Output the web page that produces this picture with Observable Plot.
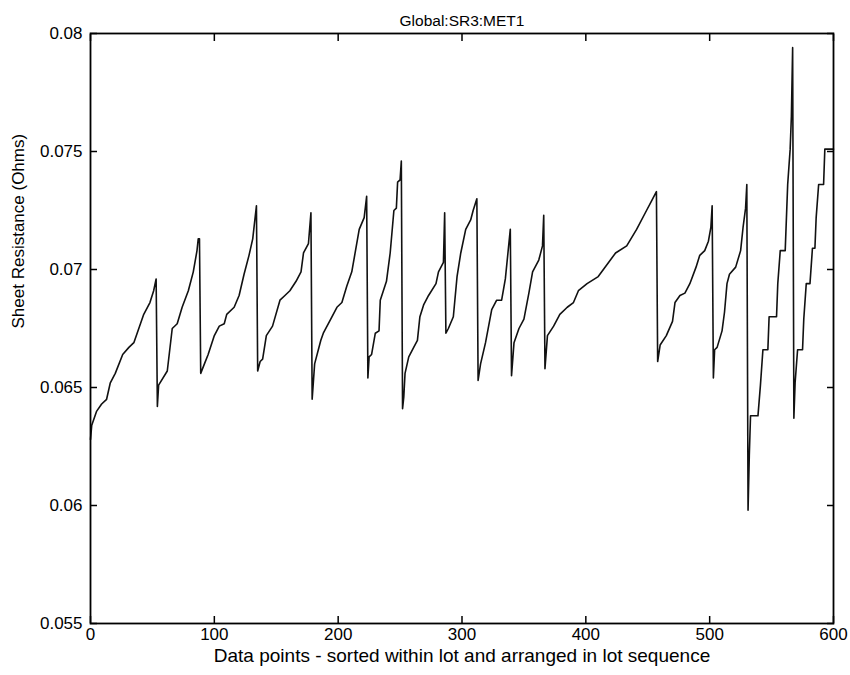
<!DOCTYPE html>
<html>
<head>
<meta charset="utf-8">
<script src="https://cdn.jsdelivr.net/npm/d3@7"></script>
<script src="https://cdn.jsdelivr.net/npm/@observablehq/plot@0.6"></script>
<style>
  html, body { margin: 0; padding: 0; background: #fff; }
  svg { font-family: "Liberation Sans", Arial, sans-serif; }
</style>
</head>
<body>
<div id="chart"></div>
<script>
const title = "Global:SR3:MET1";
const xLabel = "Data points - sorted within lot and arranged in lot sequence";
const yLabel = "Sheet Resistance (Ohms)";

const xTicks = [0, 100, 200, 300, 400, 500, 600];
const yTicks = [0.055, 0.06, 0.065, 0.07, 0.075, 0.08];
const yTickLabels = ["0.055", "0.06", "0.065", "0.07", "0.075", "0.08"];

// data point index (sorted within lot, lots in sequence)
const pointIndex = [
  0, 1, 5, 9, 13, 16, 20, 26, 31, 35, 39, 43, 48, 51, 53,
  54, 55, 62, 66, 70, 74, 79, 83, 86, 87, 88,
  89, 92, 95, 100, 104, 108, 110, 116, 120, 124, 128, 131, 134,
  135, 137, 139, 142, 147, 153, 157, 161, 166, 170, 172, 176, 178,
  179, 181, 186, 188, 194, 199, 203, 207, 211, 217, 221, 223,
  224, 225, 227, 230, 233, 234, 239, 242, 245, 247, 248, 250, 251,
  252, 253, 254, 257, 261, 264, 266, 269, 273, 279, 281, 285, 286,
  287, 289, 293, 296, 299, 303, 307, 309, 312,
  313, 315, 319, 324, 328, 332, 335, 339,
  340, 342, 346, 350, 354, 357, 362, 365, 366,
  367, 369, 374, 379, 385, 390, 394, 401, 410, 417, 424, 433, 441, 449, 453, 457,
  458, 460, 465, 470, 472, 476, 480, 484, 489, 492, 496, 499, 501, 502,
  503, 504, 506, 510, 512, 514, 516, 521, 525, 527, 529, 530,
  531, 532, 533, 539, 541, 543, 547, 548, 554, 555, 557, 561, 563, 565, 566, 567,
  568, 569, 571, 575, 576, 578, 581, 583, 585, 586, 588, 592, 593, 600
];

// sheet resistance (Ohms)
const sheetResistance = [
  0.0628, 0.0634, 0.0640, 0.0643, 0.0645, 0.0652, 0.0656, 0.0664, 0.0667, 0.0669, 0.0675, 0.0681, 0.0686, 0.0691, 0.0696,
  0.0642, 0.0651, 0.0657, 0.0675, 0.0677, 0.0684, 0.0691, 0.0699, 0.0708, 0.0713, 0.0713,
  0.0656, 0.0660, 0.0664, 0.0672, 0.0676, 0.0677, 0.0681, 0.0684, 0.0689, 0.0698, 0.0706, 0.0713, 0.0727,
  0.0657, 0.0661, 0.0662, 0.0672, 0.0676, 0.0687, 0.0689, 0.0691, 0.0695, 0.0699, 0.0707, 0.0711, 0.0724,
  0.0645, 0.0660, 0.0670, 0.0673, 0.0679, 0.0684, 0.0686, 0.0693, 0.0699, 0.0717, 0.0722, 0.0731,
  0.0654, 0.0663, 0.0664, 0.0673, 0.0674, 0.0687, 0.0695, 0.0707, 0.0725, 0.0726, 0.0737, 0.0738, 0.0746,
  0.0641, 0.0646, 0.0656, 0.0663, 0.0667, 0.0670, 0.0680, 0.0685, 0.0689, 0.0694, 0.0699, 0.0703, 0.0724,
  0.0673, 0.0675, 0.0680, 0.0697, 0.0707, 0.0717, 0.0721, 0.0725, 0.0730,
  0.0653, 0.0660, 0.0669, 0.0683, 0.0687, 0.0687, 0.0696, 0.0717,
  0.0655, 0.0669, 0.0675, 0.0679, 0.0690, 0.0699, 0.0704, 0.0710, 0.0723,
  0.0658, 0.0672, 0.0676, 0.0681, 0.0684, 0.0686, 0.0691, 0.0694, 0.0697, 0.0702, 0.0707, 0.0710, 0.0717, 0.0725, 0.0729, 0.0733,
  0.0661, 0.0668, 0.0672, 0.0678, 0.0686, 0.0689, 0.0690, 0.0694, 0.0701, 0.0706, 0.0708, 0.0712, 0.0718, 0.0727,
  0.0654, 0.0666, 0.0667, 0.0674, 0.0682, 0.0694, 0.0698, 0.0701, 0.0708, 0.0718, 0.0726, 0.0736,
  0.0598, 0.0621, 0.0638, 0.0638, 0.0651, 0.0666, 0.0666, 0.0680, 0.0680, 0.0694, 0.0708, 0.0708, 0.0736, 0.0751, 0.0765, 0.0794,
  0.0637, 0.0652, 0.0666, 0.0666, 0.0679, 0.0694, 0.0694, 0.0709, 0.0709, 0.0722, 0.0736, 0.0736, 0.0751, 0.0751
];

const data = pointIndex.map((x, i) => ({x, y: sheetResistance[i]}));

const W = 850, H = 675;
const mL = 90, mR = 17, mT = 33, mB = 52;
const tickIn = -7;
const axisStyle = {stroke: "#000", strokeWidth: 1.5, fontSize: 17, label: null};

const chart = Plot.plot({
  width: W,
  height: H,
  marginLeft: mL,
  marginRight: mR,
  marginTop: mT,
  marginBottom: mB,
  style: {fontFamily: "'Liberation Sans', Arial, sans-serif", background: "#fff", color: "#000"},
  x: {domain: [0, 600]},
  y: {domain: [0.055, 0.08]},
  marks: [
    // inward ticks on all four sides, labels only on bottom and left
    Plot.axisX(xTicks, {...axisStyle, anchor: "bottom", tickSize: tickIn, tickPadding: 11, tickFormat: d => String(d)}),
    Plot.axisX(xTicks, {...axisStyle, anchor: "top", tickSize: tickIn, tickFormat: () => ""}),
    Plot.axisY(yTicks, {...axisStyle, anchor: "left", tickSize: tickIn, tickPadding: 15, tickFormat: (d, i) => yTickLabels[i]}),
    Plot.axisY(yTicks, {...axisStyle, anchor: "right", tickSize: tickIn, tickFormat: () => ""}),
    Plot.line(data, {x: "x", y: "y", stroke: "#111", strokeWidth: 1.6}),
    Plot.frame({stroke: "#000", strokeWidth: 1.8}),
    Plot.text([title], {frameAnchor: "top", dy: -19, fontSize: 15.5, fill: "#000"}),
    Plot.text([xLabel], {frameAnchor: "bottom", dy: 38, fontSize: 19, fill: "#000"}),
    Plot.text([yLabel], {frameAnchor: "left", dx: -72, rotate: -90, fontSize: 17, fill: "#000"})
  ]
});

document.getElementById("chart").appendChild(chart);
</script>
</body>
</html>
